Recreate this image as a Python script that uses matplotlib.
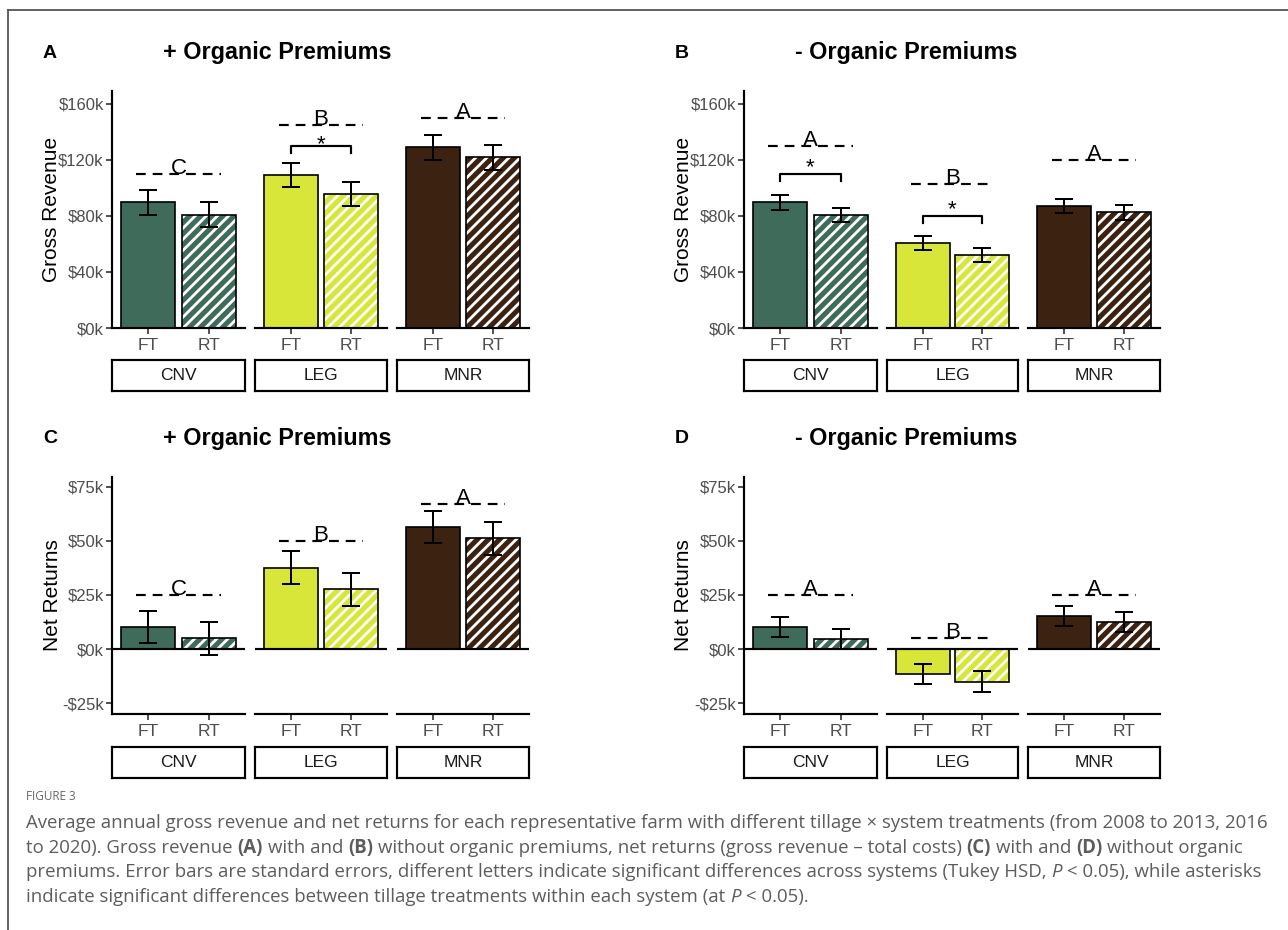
import numpy as np
import matplotlib
matplotlib.use('Agg')
import matplotlib.pyplot as plt
from matplotlib.ticker import FuncFormatter
from matplotlib.lines import Line2D

W, H = 1288, 930

systems = ['CNV', 'LEG', 'MNR']
tillage = ['FT', 'RT']
sys_colors = ['#3f6b5a', '#d7e638', '#3c2311']

# means / standard errors in $1000 ; rows = systems, cols = FT, RT
gross_org = [[89.5, 80.7], [109.0, 95.5], [128.8, 121.6]]
gross_org_se = [[8.7, 8.8], [8.7, 8.8], [8.7, 8.8]]
gross_noorg = [[89.5, 80.5], [60.5, 52.1], [87.0, 82.4]]
gross_noorg_se = [[5.3, 5.2], [5.2, 5.3], [5.2, 5.3]]
net_org = [[10.3, 4.9], [37.6, 27.7], [56.4, 51.1]]
net_org_se = [[7.5, 7.6], [7.5, 7.6], [7.5, 7.5]]
net_noorg = [[10.2, 4.8], [-11.4, -15.1], [15.4, 12.5]]
net_noorg_se = [[4.7, 4.6], [4.7, 4.8], [4.7, 4.7]]

# Tukey letters and the height of their dashed line
letters_a = ['C', 'B', 'A']
letters_a_y = [110, 145, 150]
letters_b = ['A', 'B', 'A']
letters_b_y = [130, 103, 120]
letters_c = ['C', 'B', 'A']
letters_c_y = [25, 50, 67]
letters_d = ['A', 'B', 'A']
letters_d_y = [25, 5, 25]

# tillage brackets: (system index, bracket height, star height)
stars_a = [(1, 130, 137)]
stars_b = [(0, 110, 120.5), (1, 80, 90)]

gross_ticks = [0, 40, 80, 120, 160]
net_ticks = [-25, 0, 25, 50, 75]

plt.rcParams['font.family'] = ['Liberation Sans', 'DejaVu Sans']
plt.rcParams['hatch.linewidth'] = 2.0
plt.rcParams['hatch.color'] = 'white'

LW = 1.2
fig = plt.figure(figsize=(W / 100, H / 100), dpi=100)


def box(x0, y0, x1, y1):
    return [x0 / W, 1 - y1 / H, (x1 - x0) / W, (y1 - y0) / H]


def money(v, pos):
    if v < 0:
        return '-${:.0f}k'.format(-v)
    return '${:.0f}k'.format(v)


cols_left = [(112, 245), (255, 387), (397, 529)]
cols_right = [(744, 877), (887, 1018), (1028, 1160)]
row_top = dict(ax=(91, 328), strip=(360, 391), title=53)
row_bot = dict(ax=(477, 714), strip=(747, 778), title=438)


def draw_panel(tag, title, cols, row, label_x, means, ses, letters, letters_y,
               stars, ylabel, ticks, ylim, zero_line):
    y0, y1 = row['ax']
    for i, (x0, x1) in enumerate(cols):
        ax = fig.add_axes(box(x0, y0, x1, y1))
        ax.set_xlim(0.4, 2.6)
        ax.set_ylim(*ylim)
        xs = np.array([1, 2])
        m = means[i]
        e = ses[i]
        ax.bar(xs, m, width=0.9, color=sys_colors[i], edgecolor='none', zorder=2)
        ax.bar([2], [m[1]], width=0.9, color='none', edgecolor='white',
               hatch='///', linewidth=0, zorder=2.5)
        ax.bar(xs, m, width=0.9, color='none', edgecolor='black', linewidth=LW, zorder=3)
        ax.errorbar(xs, m, yerr=e, fmt='none', ecolor='black', elinewidth=LW * 1.2,
                    capsize=6.5, capthick=LW * 1.2, zorder=4)
        if zero_line:
            ax.axhline(0, color='black', lw=LW * 1.3, zorder=3.5)
        ax.plot([0.8, 2.2], [letters_y[i]] * 2, color='black', lw=LW * 1.3,
                dashes=(4.5, 3.2), zorder=4)
        ax.text(1.5, letters_y[i], letters[i], ha='center', va='baseline',
                fontsize=16, zorder=5)
        for si, by, sy in stars:
            if si != i:
                continue
            d = (ylim[1] - ylim[0]) * 0.03
            ax.plot([1, 1, 2, 2], [by - d, by, by, by - d], color='black',
                    lw=LW * 1.3, zorder=4)
            ax.annotate('*', (1.5, sy), xytext=(0, -10), textcoords='offset points',
                        ha='center', va='baseline', fontsize=16)
        for s in ['top', 'right']:
            ax.spines[s].set_visible(False)
        ax.spines['bottom'].set_linewidth(LW * 1.3)
        ax.spines['left'].set_linewidth(LW * 1.3)
        ax.set_xticks(xs)
        ax.set_xticklabels(tillage)
        ax.tick_params(axis='x', length=4, width=LW, color='#333333',
                       labelsize=12.5, labelcolor='#4d4d4d', pad=3)
        if i == 0:
            ax.set_yticks(ticks)
            ax.yaxis.set_major_formatter(FuncFormatter(money))
            ax.tick_params(axis='y', length=4, width=LW, color='#333333',
                           labelsize=12, labelcolor='#4d4d4d', pad=2)
        else:
            ax.spines['left'].set_visible(False)
            ax.set_yticks([])
        ax.patch.set_alpha(0)

        sx = fig.add_axes(box(x0, row['strip'][0], x1, row['strip'][1]))
        sx.set_xticks([])
        sx.set_yticks([])
        for s in sx.spines.values():
            s.set_linewidth(LW * 1.3)
        sx.text(0.5, 0.5, systems[i], ha='center', va='center', fontsize=12.5,
                color='#1a1a1a', transform=sx.transAxes)

    ty = 1 - row['title'] / H
    fig.text(label_x / W, ty, tag, ha='center', va='center', fontsize=14,
             fontweight='bold')
    fig.text((label_x + 113) / W, ty, title, ha='left', va='center', fontsize=16.8,
             fontweight='bold')
    fig.text((cols[0][0] - 60) / W, 1 - (y0 + y1) / 2 / H, ylabel, rotation=90,
             ha='center', va='center', fontsize=15)


draw_panel('A', '+ Organic Premiums', cols_left, row_top, 50, gross_org, gross_org_se,
           letters_a, letters_a_y, stars_a, 'Gross Revenue', gross_ticks, (0, 169), False)
draw_panel('B', '- Organic Premiums', cols_right, row_top, 682, gross_noorg, gross_noorg_se,
           letters_b, letters_b_y, stars_b, 'Gross Revenue', gross_ticks, (0, 169), False)
draw_panel('C', '+ Organic Premiums', cols_left, row_bot, 50, net_org, net_org_se,
           letters_c, letters_c_y, [], 'Net Returns', net_ticks, (-30, 79.5), True)
draw_panel('D', '- Organic Premiums', cols_right, row_bot, 682, net_noorg, net_noorg_se,
           letters_d, letters_d_y, [], 'Net Returns', net_ticks, (-30, 79.5), True)

# outer frame
fig.add_artist(Line2D([8 / W, 8 / W], [0, 1 - 10 / H], color='#555555', lw=1.3))
fig.add_artist(Line2D([8 / W, 1], [1 - 10 / H, 1 - 10 / H], color='#555555', lw=1.3))

# caption
cap_font = 'Open Sans'
cap_color = '#5c5c5c'
caption = [
    [('Average annual gross revenue and net returns for each representative farm with '
      'different tillage \u00d7 system treatments (from 2008 to 2013, 2016', 'n')],
    [('to 2020). Gross revenue ', 'n'), ('(A)', 'b'), (' with and ', 'n'), ('(B)', 'b'),
     (' without organic premiums, net returns (gross revenue \u2013 total costs) ', 'n'),
     ('(C)', 'b'), (' with and ', 'n'), ('(D)', 'b'), (' without organic', 'n')],
    [('premiums. Error bars are standard errors, different letters indicate significant '
      'differences across systems (Tukey HSD, ', 'n'), ('P', 'i'),
     (' < 0.05), while asterisks', 'n')],
    [('indicate significant differences between tillage treatments within each system (at ', 'n'),
     ('P', 'i'), (' < 0.05).', 'n')],
]
cap_y = [823, 848, 872, 897]

renderer = fig.canvas.get_renderer()


def width_of(s, size, **kw):
    t = fig.text(0, 0, s, fontsize=size, family=cap_font, **kw)
    w = t.get_window_extent(renderer).width
    t.remove()
    return w


size = 12 * 1236 / width_of(caption[0][0][0], 12)
space = width_of('x x', size) - width_of('xx', size)

for parts, yy in zip(caption, cap_y):
    x = 26
    for text, style in parts:
        lead = len(text) - len(text.lstrip(' '))
        trail = len(text) - len(text.rstrip(' '))
        x += lead * space
        kw = {}
        if style == 'b':
            kw['fontweight'] = 'bold'
        if style == 'i':
            kw['fontstyle'] = 'italic'
        t = fig.text(x / W, 1 - yy / H, text.strip(' '), fontsize=size, family=cap_font,
                     color=cap_color, ha='left', va='center', **kw)
        x += t.get_window_extent(renderer).width + trail * space

fig.text(26 / W, 1 - 797 / H, 'FIGURE 3', fontsize=8.5, family=cap_font,
         color='#666666', ha='left', va='center')

fig.savefig('out.png', dpi=100)
